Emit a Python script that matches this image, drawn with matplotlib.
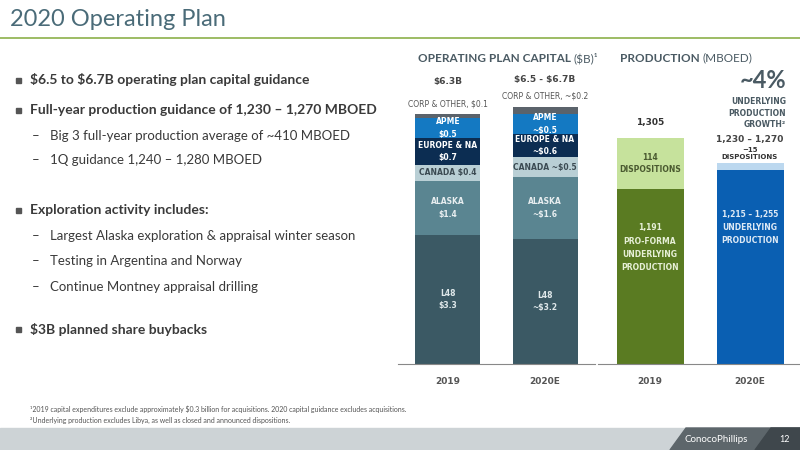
import matplotlib
matplotlib.use("Agg")
import matplotlib.pyplot as plt
from matplotlib.patches import Rectangle, Polygon

plt.rcParams['font.family'] = ['Lato', 'DejaVu Sans']
plt.rcParams['text.parse_math'] = False

years = ["2019", "2020E"]
cap_segments = ["L48", "ALASKA", "CANADA", "EUROPE & NA", "APME", "CORP & OTHER"]
cap_2019 = [3.3, 1.4, 0.4, 0.7, 0.5, 0.1]
cap_2020 = [3.2, 1.6, 0.5, 0.6, 0.5, 0.2]
cap_labels_2019 = ["L48\n$3.3", "ALASKA\n$1.4", "CANADA $0.4", "EUROPE & NA\n$0.7", "APME\n$0.5", ""]
cap_labels_2020 = ["L48\n~$3.2", "ALASKA\n~$1.6", "CANADA ~$0.5", "EUROPE & NA\n~$0.6", "APME\n~$0.5", ""]
cap_colors = ["#3b5964", "#5a8591", "#b9cfd5", "#0c2d52", "#1479c2", "#5b636b"]
cap_text_colors = ["#dfe8ea", "#e8eef0", "#3b4a52", "#ffffff", "#ffffff", "#ffffff"]

prod_underlying = [1191, 1235]
prod_dispositions = [114, 15]
prod_base = 800
prod_colors_under = ["#5a7b22", "#0a5fb2"]
prod_colors_disp = ["#c6e29c", "#bcd8ef"]

W, H = 800, 450
fig = plt.figure(figsize=(8, 4.5), dpi=100)

def fx(x): return x / W
def fy(y): return 1 - y / H
def T(x, y, s, **kw):
    return fig.text(fx(x), fy(y), s, **kw)

T(10, 19, "2020 Operating Plan", fontsize=17, color="#4a6b78", va="center")
fig.add_artist(plt.Line2D([0, 1], [fy(38), fy(38)], color="#8cb04a", lw=1.2, transform=fig.transFigure))

txt = "#3a3a3a"
bul = [(80, "$6.5 to $6.7B operating plan capital guidance", 0),
       (110, "Full-year production guidance of 1,230 \u2013 1,270 MBOED", 0),
       (136, "Big 3 full-year production average of ~410 MBOED", 1),
       (160, "1Q guidance 1,240 \u2013 1,280 MBOED", 1),
       (210, "Exploration activity includes:", 0),
       (236, "Largest Alaska exploration & appraisal winter season", 1),
       (261, "Testing in Argentina and Norway", 1),
       (287, "Continue Montney appraisal drilling", 1),
       (329, "$3B planned share buybacks", 0)]
for y, s, lvl in bul:
    if lvl == 0:
        fig.add_artist(Rectangle((fx(16), fy(y + 3)), fx(5), 5 / H, color="#555555", transform=fig.transFigure))
        T(30, y, s, fontsize=10, fontweight="bold", color=txt, va="center")
    else:
        T(32, y, "\u2013", fontsize=9.5, color=txt, va="center")
        T(50, y, s, fontsize=9.5, color=txt, va="center")

ax = fig.add_axes([fx(398), fy(364), 197 / W, 312 / H])
ax.set_xlim(-0.515, 1.515)
ax.set_ylim(0, 8)
for i, (vals, labs) in enumerate([(cap_2019, cap_labels_2019), (cap_2020, cap_labels_2020)]):
    bottom = 0
    for v, lab, c, tc in zip(vals, labs, cap_colors, cap_text_colors):
        ax.bar(i, v, 0.67, bottom=bottom, color=c)
        if lab:
            ax.text(i, bottom + v / 2, lab, ha="center", va="center", fontsize=5.5, color=tc,
                    fontweight="bold", linespacing=1.5, family="DejaVu Sans")
        bottom += v
ax.text(0, sum(cap_2019) + 0.15, "CORP & OTHER, $0.1", ha="center", va="bottom", fontsize=5.5, color="#555", family="DejaVu Sans")
ax.text(1, sum(cap_2020) + 0.15, "CORP & OTHER, ~$0.2", ha="center", va="bottom", fontsize=5.5, color="#555", family="DejaVu Sans")
ax.text(0, 7.25, "$6.3B", ha="center", va="center", fontsize=6.5, color="#444", fontweight="bold", family="DejaVu Sans")
ax.text(1, 7.3, "$6.5 - $6.7B", ha="center", va="center", fontsize=6.5, color="#444", fontweight="bold", family="DejaVu Sans")
ax.set_xticks([0, 1], years)
ax.set_yticks([])
for sp in ["top", "left", "right"]:
    ax.spines[sp].set_visible(False)
ax.spines["bottom"].set_color("#888")
ax.tick_params(axis="x", length=0, pad=9, labelsize=6.5, labelcolor="#555")
for t in ax.get_xticklabels():
    t.set_fontweight("bold"); t.set_family("DejaVu Sans")

ax2 = fig.add_axes([fx(598), fy(364), 202 / W, 312 / H])
ax2.set_xlim(-0.52, 1.5)
ax2.set_ylim(prod_base, prod_base + 312 / 0.447)
for i in range(2):
    ax2.bar(i, prod_underlying[i] - prod_base, 0.67, bottom=prod_base, color=prod_colors_under[i])
    ax2.bar(i, prod_dispositions[i], 0.67, bottom=prod_underlying[i], color=prod_colors_disp[i])
ax2.text(0, 1060, "1,191\nPRO-FORMA\nUNDERLYING\nPRODUCTION", ha="center", va="center", fontsize=5.5,
         color="#e6efd6", fontweight="bold", linespacing=1.6, family="DejaVu Sans")
ax2.text(1, 1105, "1,215 \u2013 1,255\nUNDERLYING\nPRODUCTION", ha="center", va="center", fontsize=5.5,
         color="#dde9f5", fontweight="bold", linespacing=1.6, family="DejaVu Sans")
ax2.text(0, 1248, "114\nDISPOSITIONS", ha="center", va="center", fontsize=5.5, color="#4a5a30",
         fontweight="bold", linespacing=1.5, family="DejaVu Sans")
ax2.text(0, 1330, "1,305", ha="center", va="bottom", fontsize=6.5, color="#333", fontweight="bold", family="DejaVu Sans")
ax2.text(1, 1256, "~15\nDISPOSITIONS", ha="center", va="bottom", fontsize=5, color="#333",
         fontweight="bold", linespacing=1.3, family="DejaVu Sans")
ax2.text(1, 1292, "1,230 \u2013 1,270", ha="center", va="bottom", fontsize=6.5, color="#444", fontweight="bold", family="DejaVu Sans")
ax2.set_xticks([0, 1], years)
ax2.set_yticks([])
for sp in ["top", "left", "right"]:
    ax2.spines[sp].set_visible(False)
ax2.spines["bottom"].set_color("#888")
ax2.tick_params(axis="x", length=0, pad=9, labelsize=6.5, labelcolor="#555")
for t in ax2.get_xticklabels():
    t.set_fontweight("bold"); t.set_family("DejaVu Sans")

fig.canvas.draw()
r = fig.canvas.get_renderer()
def pair(x, y, bold, reg):
    t = T(x, y, bold, fontsize=8.5, fontweight="bold", color="#4a5a63", va="center")
    bb = t.get_window_extent(r)
    T(bb.x1 + 3, y, reg, fontsize=8.5, color="#4a5a63", va="center")
pair(418, 58, "OPERATING PLAN CAPITAL", "($B)\u00b9")
pair(620, 58, "PRODUCTION", "(MBOED)")
T(786, 80, "~4%", fontsize=17, fontweight="bold", color="#4a5a63", va="center", ha="right")
T(786, 113, "UNDERLYING\nPRODUCTION\nGROWTH\u00b2", fontsize=5.5, fontweight="bold", color="#4a5a63",
  va="center", ha="right", linespacing=1.4, family="DejaVu Sans")

T(30, 409, "\u00b92019 capital expenditures exclude approximately $0.3 billion for acquisitions. 2020 capital guidance excludes acquisitions.",
  fontsize=5, color="#555", va="center")
T(30, 420, "\u00b2Underlying production excludes Libya, as well as closed and announced dispositions.",
  fontsize=5, color="#555", va="center")

fig.add_artist(Rectangle((0, 0), 1, 22 / H, color="#cdd3d6", transform=fig.transFigure))
fig.add_artist(Polygon([[fx(670), 0], [fx(686), 22 / H], [1, 22 / H], [1, 0]], closed=True,
                       color="#5d666b", transform=fig.transFigure))
fig.add_artist(Polygon([[fx(755), 0], [fx(771), 22 / H], [1, 22 / H], [1, 0]], closed=True,
                       color="#3f474c", transform=fig.transFigure))
T(716, 439, "ConocoPhillips", fontsize=7, color="white", va="center", ha="center")
T(785, 439, "12", fontsize=6.5, color="white", va="center", ha="center")

fig.savefig("out.png", dpi=100)
